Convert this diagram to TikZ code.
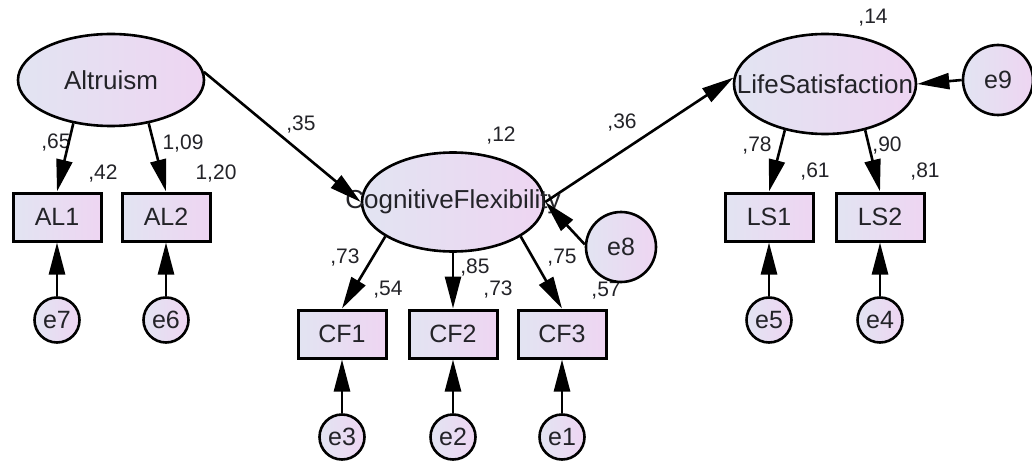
\documentclass[tikz,border=0pt]{standalone}
\usepackage{fontspec}
\setmainfont{Liberation Sans}
\usetikzlibrary{arrows.meta,shapes.geometric}
\definecolor{fillL}{RGB}{226,228,242}
\definecolor{fillR}{RGB}{238,213,242}
\definecolor{ink}{RGB}{35,35,40}
\begin{document}
\begin{tikzpicture}[x=1pt,y=-1pt,
  latent/.style={ellipse, draw=black, line width=2.6pt, left color=fillL, right color=fillR,
    inner sep=0pt, text=ink, font=\fontsize{26}{30}\selectfont},
  observed/.style={rectangle, draw=black, line width=3pt, left color=fillL, right color=fillR,
    minimum width=88pt, minimum height=48pt, inner sep=0pt, text=ink,
    font=\fontsize{25}{30}\selectfont},
  errsmall/.style={circle, draw=black, line width=2.6pt, left color=fillL, right color=fillR,
    minimum size=45pt, inner sep=0pt, text=ink, font=\fontsize{25}{29}\selectfont},
  errbig/.style={errsmall, minimum size=70pt},
  coef/.style={inner sep=0pt, text=ink, font=\fontsize{21}{24}\selectfont},
  regpath/.style={draw=black, line width=2.6pt, -{Triangle[length=32pt,width=16pt]}},
]
\useasboundingbox (0,0) rectangle (1032,465);

% standardized estimates and squared multiple correlations
\node[coef] (l65) at (56,143) {,65};
\node[coef] (l109) at (183,144) {1,09};
\node[coef] (l42) at (103,174) {,42};
\node[coef] (l120) at (216,174) {1,20};
\node[coef] (l35) at (301,125) {,35};
\node[coef] (l12) at (501,136) {,12};
\node[coef] (l36) at (622,123) {,36};
\node[coef] (l73a) at (345,258) {,73};
\node[coef] (l85) at (475,268) {,85};
\node[coef] (l75) at (562,258) {,75};
\node[coef] (l54) at (388,290) {,54};
\node[coef] (l73b) at (498,290) {,73};
\node[coef] (l57) at (606,291) {,57};
\node[coef] (l14) at (873,18) {,14};
\node[coef] (l78) at (757,146) {,78};
\node[coef] (l90) at (887,146) {,90};
\node[coef] (l61) at (815,172) {,61};
\node[coef] (l81) at (925,172) {,81};

% latent variables
\node[latent, minimum width=186pt, minimum height=92pt] (alt) at (111,80) {\makebox[0pt]{Altruism}};
\node[latent, minimum width=182pt, minimum height=99pt] (cf) at (453,202) {\makebox[0pt]{CognitiveFlexibility}};
\node[latent, minimum width=182pt, minimum height=100pt] (ls) at (825,84) {\makebox[0pt]{LifeSatisfaction}};

% indicators
\node[observed] (al1) at (57,217) {AL1};
\node[observed] (al2) at (166,217) {AL2};
\node[observed] (cf1) at (342,334) {CF1};
\node[observed] (cf2) at (453,334) {CF2};
\node[observed] (cf3) at (562,334) {CF3};
\node[observed] (ls1) at (769,217) {LS1};
\node[observed] (ls2) at (880,217) {LS2};

% error terms
\node[errsmall] (e7) at (57,320) {e7};
\node[errsmall] (e6) at (166,320) {e6};
\node[errsmall] (e3) at (342,437) {e3};
\node[errsmall] (e2) at (453,437) {e2};
\node[errsmall] (e1) at (562,437) {e1};
\node[errsmall] (e5) at (769,320) {e5};
\node[errsmall] (e4) at (880,320) {e4};
\node[errbig] (e8) at (621,247) {e8};
\node[errbig] (e9) at (998,80) {e9};

% structural paths
\draw[regpath] (alt.5) -- (cf.west);
\draw[regpath] (cf.east) -- (ls.176);
\draw[regpath] (e8.176) -- (cf.east);
\draw[regpath] (e9.west) -- (ls.east);

% measurement paths
\draw[regpath] (alt.229) -- (al1.north);
\draw[regpath] (alt.311) -- (al2.north);
\draw[regpath] (cf.207) -- (cf1.north);
\draw[regpath] (cf.south) -- (cf2.north);
\draw[regpath] (cf.333) -- (cf3.north);
\draw[regpath] (ls.229) -- (ls1.north);
\draw[regpath] (ls.311) -- (ls2.north);

% error paths
\draw[regpath] (e7) -- (al1);
\draw[regpath] (e6) -- (al2);
\draw[regpath] (e3) -- (cf1);
\draw[regpath] (e2) -- (cf2);
\draw[regpath] (e1) -- (cf3);
\draw[regpath] (e5) -- (ls1);
\draw[regpath] (e4) -- (ls2);
\end{tikzpicture}
\end{document}
